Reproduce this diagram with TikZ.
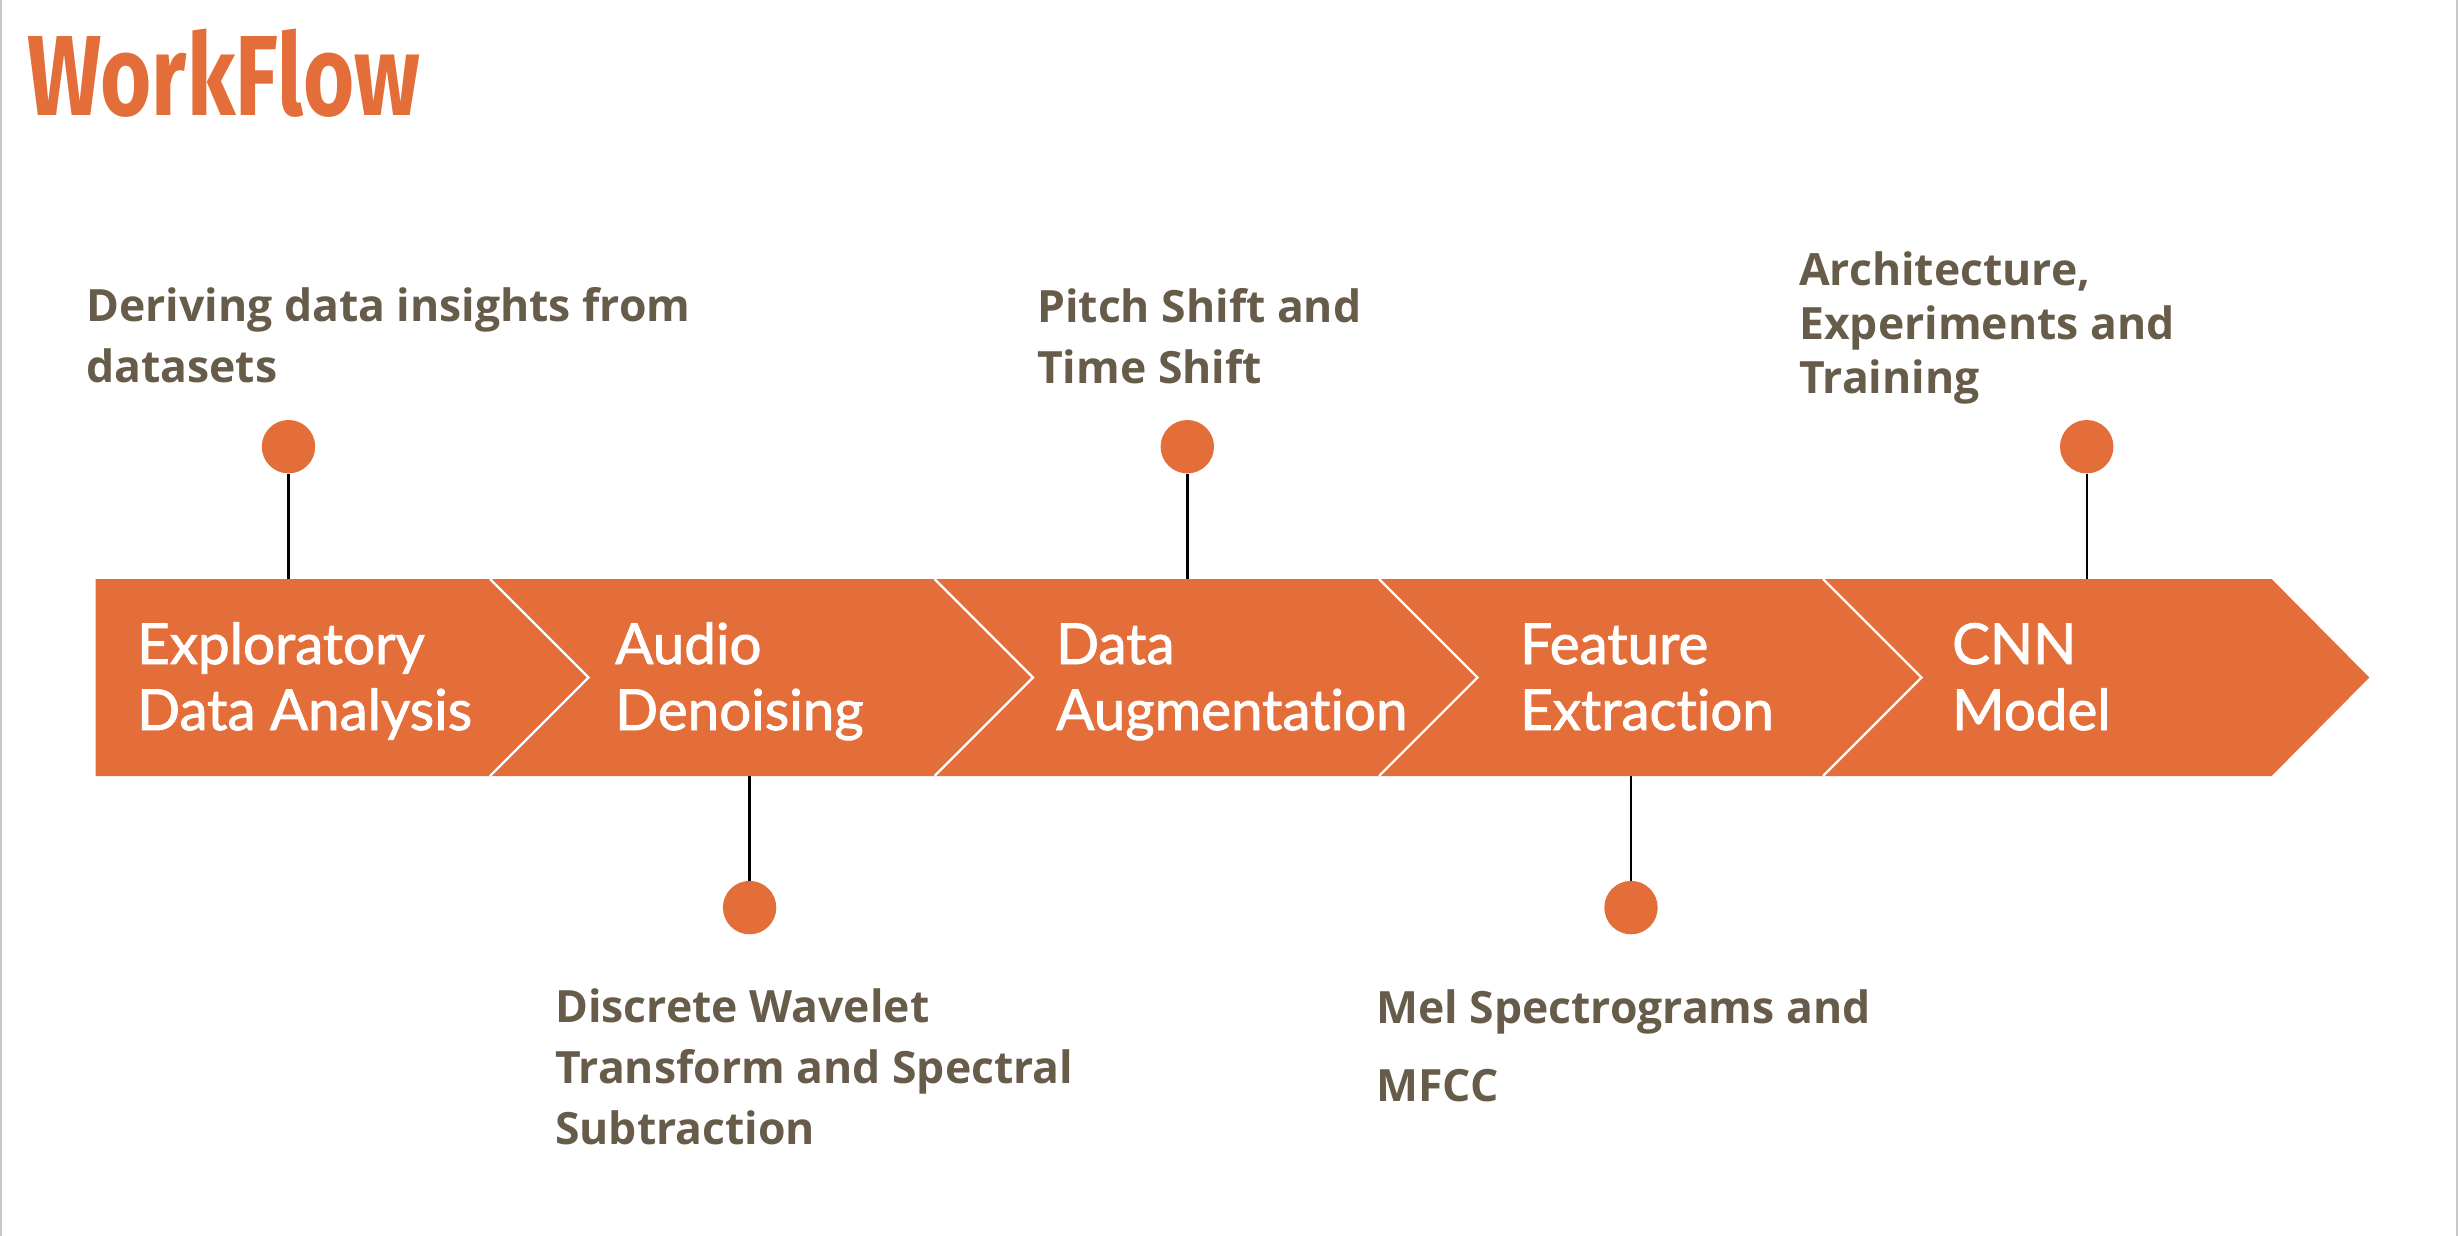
\documentclass[tikz,border=0pt]{standalone}
\usepackage{fontspec}
\newfontfamily\titlefont[FakeStretch=0.77]{Fira Sans}
\newfontfamily\bandfont[FakeBold=1.5, Ligatures=NoCommon]{Lato}
\newfontfamily\labelfont{Open Sans}
\definecolor{accent}{HTML}{E36E3A}
\definecolor{ink}{HTML}{675C4A}
\definecolor{edgegray}{HTML}{C8C8C8}
\newcommand{\stack}[1]{\begin{tabular}[t]{@{}l@{}}#1\end{tabular}}
\tikzset{
  dot/.style={circle, fill=accent, draw=none, minimum size=53.4pt, inner sep=0pt},
  stem/.style={draw=black, line width=2.4pt},
  divider/.style={draw=white, line width=2.2pt},
  bandtext/.style={anchor=base west, inner sep=0pt, text=white,
    font=\bandfont\fontsize{56.5}{66}\selectfont},
  labeltext/.style={anchor=base west, inner sep=0pt, text=ink,
    font=\labelfont\bfseries\fontsize{44.5}{61}\selectfont},
}
\begin{document}
\begin{tikzpicture}[x=1pt,y=-1pt]
  \useasboundingbox (0,0) rectangle (2458,1236);
  \fill[white] (0,0) rectangle (2458,1236);
  \fill[edgegray] (0,0) rectangle (2.2,1236);
  \fill[edgegray] (2455.8,0) rectangle (2458,1236);

  % title
  \node[anchor=base west, inner sep=0pt, text=accent,
        font=\titlefont\bfseries\fontsize{114}{120}\selectfont] (title) at (27,115.7) {WorkFlow};

  % the chevron band
  \fill[accent] (95.6,579) -- (2271.6,579) -- (2369.3,677.5) -- (2271.6,776)
                -- (95.6,776) -- cycle;
  \foreach \xx in {490,934.5,1379,1823}
    \draw[divider] (\xx,579) -- (\xx+98.5,677.5) -- (\xx,776);

  % band attachment points
  \coordinate (b1) at (288.5,579);
  \coordinate (b2) at (749.6,776);
  \coordinate (b3) at (1187.3,579);
  \coordinate (b4) at (1631,776);
  \coordinate (b5) at (2086.7,579);

  % milestone dots
  \node[dot] (c1) at (288.5,446.7) {};
  \node[dot] (c2) at (749.6,907.6) {};
  \node[dot] (c3) at (1187.3,446.7) {};
  \node[dot] (c4) at (1631,907.6) {};
  \node[dot] (c5) at (2086.7,446.7) {};

  \foreach \i in {1,...,5}
    \draw[stem] (c\i) -- (b\i);

  % stage names
  \node[bandtext] (s1) at (137,664) {\stack{Exploratory\\Data Analysis}};
  \node[bandtext] (s2) at (615,664) {\stack{Audio\\Denoising}};
  \node[bandtext] (s3) at (1056,664) {\stack{Data\\Augmentation}};
  \node[bandtext] (s4) at (1520,664) {\stack{Feature\\Extraction}};
  \node[bandtext] (s5) at (1952,664) {\stack{CNN\\Model}};

  % stage descriptions
  \node[labeltext] (d1) at (86,321) {\stack{Deriving data insights from\\datasets}};
  \node[labeltext] (d2) at (555,1022.7) {\stack{Discrete Wavelet\\Transform and Spectral\\Subtraction}};
  \node[labeltext] (d3) at (1037,322.7) {\stack{Pitch Shift and\\Time Shift}};
  \node[labeltext, font=\labelfont\bfseries\fontsize{44.5}{78}\selectfont] (d4) at (1376,1023.3) {\stack{Mel Spectrograms and\\MFCC}};
  \node[labeltext, font=\labelfont\bfseries\fontsize{44.5}{54}\selectfont] (d5) at (1799,285) {\stack{Architecture,\\Experiments and\\Training}};
\end{tikzpicture}
\end{document}
